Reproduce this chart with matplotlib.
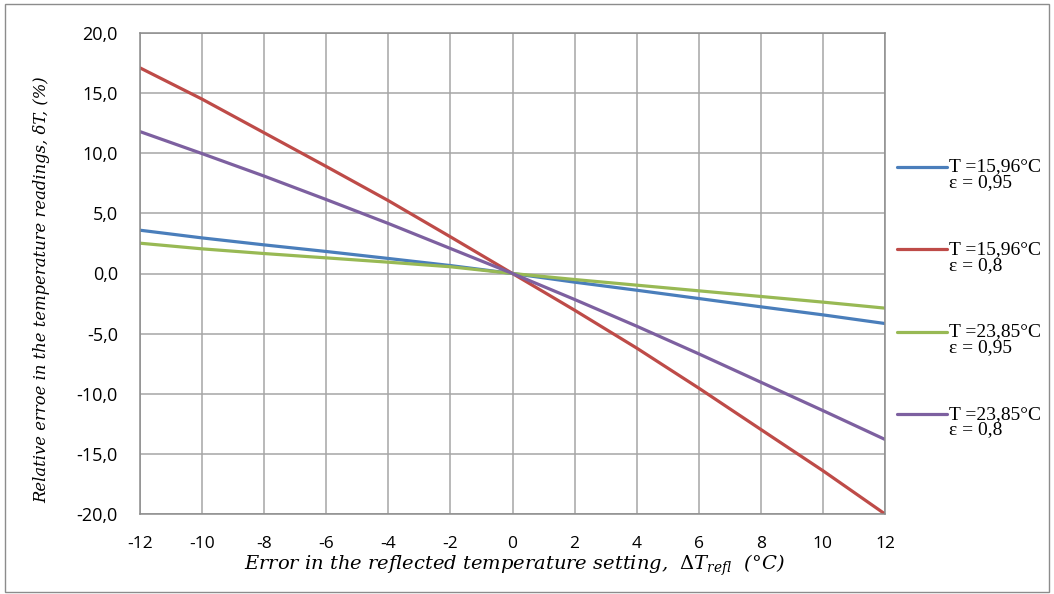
import matplotlib
matplotlib.use("Agg")
import matplotlib.pyplot as plt
from matplotlib.patches import Rectangle

x_vals = [-12, -10, -8, -6, -4, -2, 0, 2, 4, 6, 8, 10, 12]
blue_t1595 = [3.6, 2.96, 2.38, 1.83, 1.25, 0.66, 0.0, -0.72, -1.39, -2.08, -2.77, -3.44, -4.16]
red_t158 = [17.1, 14.5, 11.7, 8.9, 6.06, 3.05, 0.0, -3.05, -6.2, -9.53, -12.97, -16.4, -20.0]
green_t2395 = [2.52, 2.05, 1.66, 1.3, 0.94, 0.56, 0.0, -0.5, -0.97, -1.44, -1.91, -2.38, -2.88]
purple_t28 = [11.8, 9.97, 8.1, 6.15, 4.16, 2.08, 0.0, -2.16, -4.38, -6.68, -9.04, -11.4, -13.8]

series_labels = ["T =15,96°C\nε = 0,95", "T =15,96°C\nε = 0,8",
                 "T =23,85°C\nε = 0,95", "T =23,85°C\nε = 0,8"]
series_colors = ["#4a7ebb", "#be4b48", "#98b954", "#7d60a0"]
x_ticks = list(range(-12, 13, 2))
y_ticks = [-20, -15, -10, -5, 0, 5, 10, 15, 20]
y_ticklabels = ["-20,0", "-15,0", "-10,0", "-5,0", "0,0", "5,0", "10,0", "15,0", "20,0"]

plt.rcParams['mathtext.fontset'] = 'dejavuserif'

fig = plt.figure(figsize=(10.54, 5.94), dpi=100)
ax = fig.add_axes([140/1054, 1-514/594, (885-140)/1054, (514-33)/594])

for ys, lab, col in zip([blue_t1595, red_t158, green_t2395, purple_t28], series_labels, series_colors):
    # leading blank line keeps the legend handle level with the first text line
    ax.plot(x_vals, ys, color=col, lw=2.3, label="\n" + lab, solid_capstyle='round')

ax.set_xlim(-12, 12)
ax.set_ylim(-20, 20)
ax.set_xticks(x_ticks)
ax.set_xticklabels([str(t) for t in x_ticks])
ax.set_yticks(y_ticks)
ax.set_yticklabels(y_ticklabels)
ax.grid(True, color="#a6a6a6", lw=1.1)
ax.set_axisbelow(True)
for s in ax.spines.values():
    s.set_color("#8c8c8c")
    s.set_linewidth(1.1)
ax.tick_params(length=0, colors="#000000")
ax.tick_params(axis="y", labelsize=13, pad=16)
ax.tick_params(axis="x", labelsize=12.5, pad=16)
for t in ax.get_xticklabels() + ax.get_yticklabels():
    t.set_fontfamily("Open Sans")

ax.set_xlabel("Error in the reflected temperature setting,  $\\mathit{\\Delta T_{refl}}$  (°C)",
              fontfamily="DejaVu Serif", style="italic", fontsize=14)
ax.set_ylabel("Relative erroe in the temperature readings, δT, (%)",
              fontfamily="DejaVu Serif", style="italic", fontsize=11.8)
ax.xaxis.set_label_coords(0.502, -0.081)
ax.yaxis.set_label_coords(-0.121, 0.467)

leg = fig.legend(loc="upper left", bbox_to_anchor=(889/1054, 1-135/594), frameon=False,
                 prop={"family": "Liberation Serif", "size": 14}, handlelength=2.6,
                 handletextpad=0.08, labelspacing=1.75, borderaxespad=0)
for t in leg.get_texts():
    t.set_linespacing(0.9)

fig.add_artist(Rectangle((5/1054, 2/594), 1-10/1054, 1-6/594, transform=fig.transFigure,
                         fill=False, edgecolor="#8c8c8c", lw=1))

fig.savefig("out.png", dpi=100)
